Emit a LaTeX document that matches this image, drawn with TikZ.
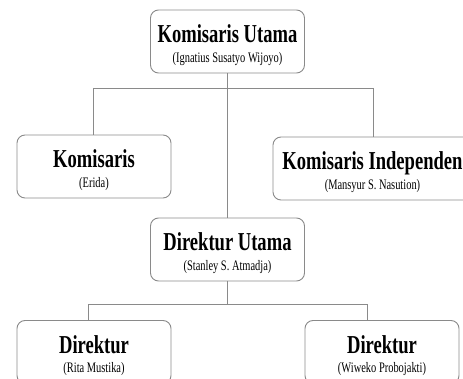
\documentclass[tikz,border=0pt]{standalone}
\usepackage{fontspec}
\setmainfont[FakeStretch=0.72]{Liberation Serif}
\usetikzlibrary{positioning}
\definecolor{ogray}{HTML}{8A8A8A}
\tikzset{
  orgbox/.style={draw=ogray, rounded corners=8pt, line width=0.9pt,
                 minimum width=154pt, minimum height=63pt, inner sep=0pt,
                 align=center, font=\fontsize{14.5}{19.5}\selectfont},
  conn/.style={draw=ogray, line width=0.9pt},
}
\newcommand{\jabatan}[2]{%
  {\fontsize{25.8}{20}\selectfont\bfseries\rule{0pt}{25pt}#1}\\ #2}

\begin{document}
\begin{tikzpicture}[x=1pt, y=-1pt]
  \useasboundingbox (0,0) rectangle (463,379);
  \clip (0,0) rectangle (463,379);

  %% -- dewan komisaris --
  \node[orgbox] (ku) at (227.5,41.5) {\jabatan{Komisaris Utama}{(Ignatius Susatyo Wijoyo)}};
  \node[orgbox] (kom) at (94,166.5) {\jabatan{Komisaris}{(Erida)}};
  \node[orgbox, minimum width=199pt] (ki) at (372.5,168.5) {\jabatan{Komisaris Independen}{(Mansyur S. Nasution)}};

  %% -- direksi --
  \node[orgbox] (du) at (227.5,249.5) {\jabatan{Direktur Utama}{(Stanley S. Atmadja)}};
  \node[orgbox] (dir1) at (94,352) {\jabatan{Direktur}{(Rita Mustika)}};
  \node[orgbox] (dir2) at (382,352) {\jabatan{Direktur}{(Wiweko Probojakti)}};

  %% -- garis komisaris --
  \coordinate (kl) at (93,88);
  \coordinate (kr) at (373,88);
  \draw[conn] (ku) -- (du);
  \draw[conn] (kl) -- (kr);
  \draw[conn] (kl) -- (kl |- kom.north);
  \draw[conn] (kr) -- (kr |- ki.north);

  %% -- garis direksi --
  \coordinate (dl) at (88,304);
  \coordinate (dr) at (367,304);
  \draw[conn] (du) -- (du |- dl);
  \draw[conn] (dl) -- (dr);
  \draw[conn] (dl) -- (dl |- dir1.north);
  \draw[conn] (dr) -- (dr |- dir2.north);
\end{tikzpicture}
\end{document}
